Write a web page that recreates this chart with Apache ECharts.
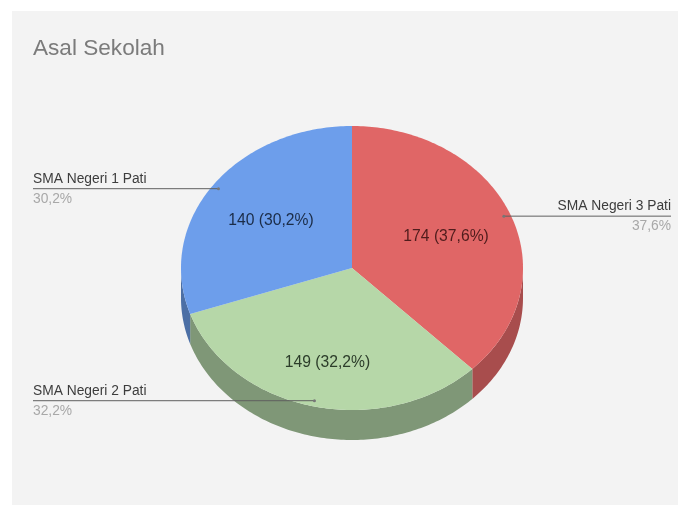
<!DOCTYPE html>
<html>
<head>
<meta charset="utf-8">
<style>html,body{margin:0;padding:0;background:#fff}#c{width:678px;height:505px;filter:blur(0.5px)}</style>
<script src="https://cdn.jsdelivr.net/npm/echarts@6/dist/echarts.min.js"></script>
</head>
<body>
<div id="c"></div>
<script>
var titleText = 'Asal Sekolah';
var categories = ['SMA Negeri 3 Pati', 'SMA Negeri 2 Pati', 'SMA Negeri 1 Pati'];
var values = [174, 149, 140];
var percentLabels = ['37,6%', '32,2%', '30,2%'];

var topColors = ['#e06666', '#b6d7a8', '#6d9eeb'];
var sideColors = ['#a84d4d', '#7f9777', '#4c6fa5'];
var innerTextColors = ['#4f1c1c', '#2c3d2a', '#1b2c47'];
var innerLabelRadius = [0.595, 0.68, 0.583];
var innerLabelShiftX = [0, 2, 0];

var CX = 352, CY = 268, RX = 171, RY = 142, DEPTH = 30;
var ANCHOR_R = 0.96, LEFT_X = 33, RIGHT_X = 671;

var total = values.reduce(function (a, b) { return a + b; }, 0);
var starts = [];
values.reduce(function (acc, v, i) { starts[i] = acc; return acc + v; }, 0);

function toAngle(v) { return v / total * Math.PI * 2; }
function pt(a, f, dy) {
  return [CX + RX * f * Math.sin(a), CY - RY * f * Math.cos(a) + (dy || 0)];
}
function arc(a0, a1, dy) {
  var pts = [], n = Math.max(2, Math.ceil((a1 - a0) * 60));
  for (var i = 0; i <= n; i++) pts.push(pt(a0 + (a1 - a0) * i / n, 1, dy));
  return pts;
}

var data = categories.map(function (name, i) {
  return { name: name, value: [values[i], starts[i], i] };
});

function renderSide(params, api) {
  var i = api.value(2);
  var a0 = Math.max(toAngle(api.value(1)), Math.PI / 2);
  var a1 = Math.min(toAngle(api.value(1) + api.value(0)), Math.PI * 1.5);
  if (a1 <= a0) return { type: 'group', children: [] };
  var pts = arc(a0, a1, 0).concat(arc(a0, a1, DEPTH).reverse());
  return { type: 'polygon', shape: { points: pts }, style: { fill: sideColors[i] } };
}

function renderTop(params, api) {
  var i = api.value(2);
  var a0 = toAngle(api.value(1));
  var a1 = toAngle(api.value(1) + api.value(0));
  var pts = [[CX, CY]].concat(arc(a0, a1, 0));
  return { type: 'polygon', shape: { points: pts }, style: { fill: topColors[i] } };
}

function renderLabels(params, api) {
  var i = api.value(2);
  var a0 = toAngle(api.value(1));
  var a1 = toAngle(api.value(1) + api.value(0));
  var mid = (a0 + a1) / 2;
  var inner = pt(mid, innerLabelRadius[i]);
  var anchor = pt(mid, ANCHOR_R);
  var right = Math.sin(mid) > 0;
  var endX = right ? RIGHT_X : LEFT_X;
  var align = right ? 'right' : 'left';
  return {
    type: 'group',
    children: [
      { type: 'line', shape: { x1: anchor[0], y1: anchor[1], x2: endX, y2: anchor[1] },
        style: { stroke: '#5f5f5f', lineWidth: 1 } },
      { type: 'circle', shape: { cx: anchor[0], cy: anchor[1], r: 1.5 }, style: { fill: '#777' } },
      { type: 'text', style: { text: categories[i], x: endX, y: anchor[1] - 10, align: align,
          verticalAlign: 'middle', font: '13.8px "Liberation Sans"', fill: '#3d3d3d' } },
      { type: 'text', style: { text: percentLabels[i], x: endX, y: anchor[1] + 10.5, align: align,
          verticalAlign: 'middle', font: '13.8px "Liberation Sans"', fill: '#a8a8a8' } },
      { type: 'text', style: { text: values[i] + ' (' + percentLabels[i] + ')', x: inner[0] + innerLabelShiftX[i], y: inner[1] + 1,
          align: 'center', verticalAlign: 'middle', font: '15.7px "Liberation Sans"', fill: innerTextColors[i] } }
    ]
  };
}

var chart = echarts.init(document.getElementById('c'), null, { renderer: 'canvas' });
chart.setOption({
  animation: false,
  backgroundColor: '#ffffff',
  title: {
    text: titleText, left: 28, top: 32,
    textStyle: { fontFamily: 'Liberation Sans', fontSize: 22.6, fontWeight: 'normal', color: '#7b7b7b' }
  },
  graphic: [{
    type: 'rect', z: -10, silent: true,
    shape: { x: 12, y: 11, width: 666, height: 494 },
    style: { fill: '#f3f3f3' }
  }],
  tooltip: { show: false },
  series: [
    { type: 'custom', name: 'sides', coordinateSystem: 'none', renderItem: renderSide, data: data, z: 1, silent: true },
    { type: 'custom', name: 'tops', coordinateSystem: 'none', renderItem: renderTop, data: data, z: 2, silent: true },
    { type: 'custom', name: 'labels', coordinateSystem: 'none', renderItem: renderLabels, data: data, z: 3, silent: true }
  ]
});
</script>
</body>
</html>
